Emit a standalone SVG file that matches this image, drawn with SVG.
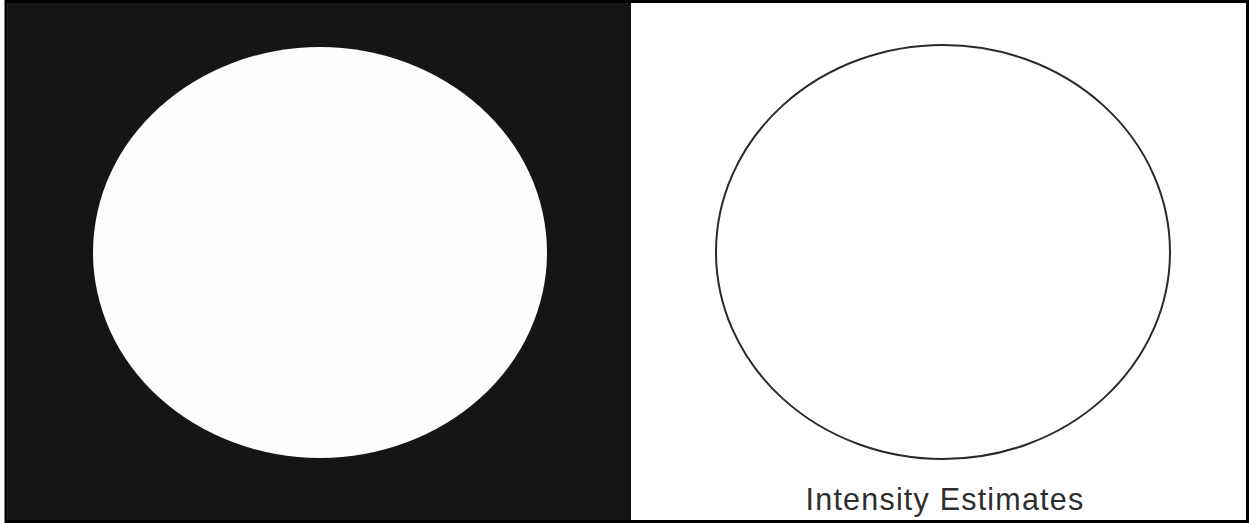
<svg xmlns="http://www.w3.org/2000/svg" width="1249" height="523" viewBox="0 0 1249 523">
<style>
.frame{fill:none;stroke:#000;stroke-width:3}
.label{font-family:"Liberation Sans",Arial,sans-serif;font-size:30.5px;letter-spacing:1.2px;fill:#2e2e2e}
</style>
<rect x="0" y="0" width="1249" height="523" fill="#fff"/>
<g id="left-panel">
<rect x="7" y="3" width="624" height="518" fill="#151515"/>
<line x1="7.5" y1="3" x2="7.5" y2="521" stroke="#555" stroke-width="1"/>
<ellipse cx="320" cy="252.5" rx="227" ry="205.5" fill="#fdfdfd"/>
</g>
<g id="right-panel">
<ellipse cx="943" cy="252" rx="227" ry="207" fill="none" stroke="#2a2a2a" stroke-width="2"/>
<text class="label" x="945" y="510" text-anchor="middle">Intensity Estimates</text>
</g>
<g id="connectors"></g>
<rect class="frame" x="6" y="1.5" width="1241.5" height="520"/>
</svg>
